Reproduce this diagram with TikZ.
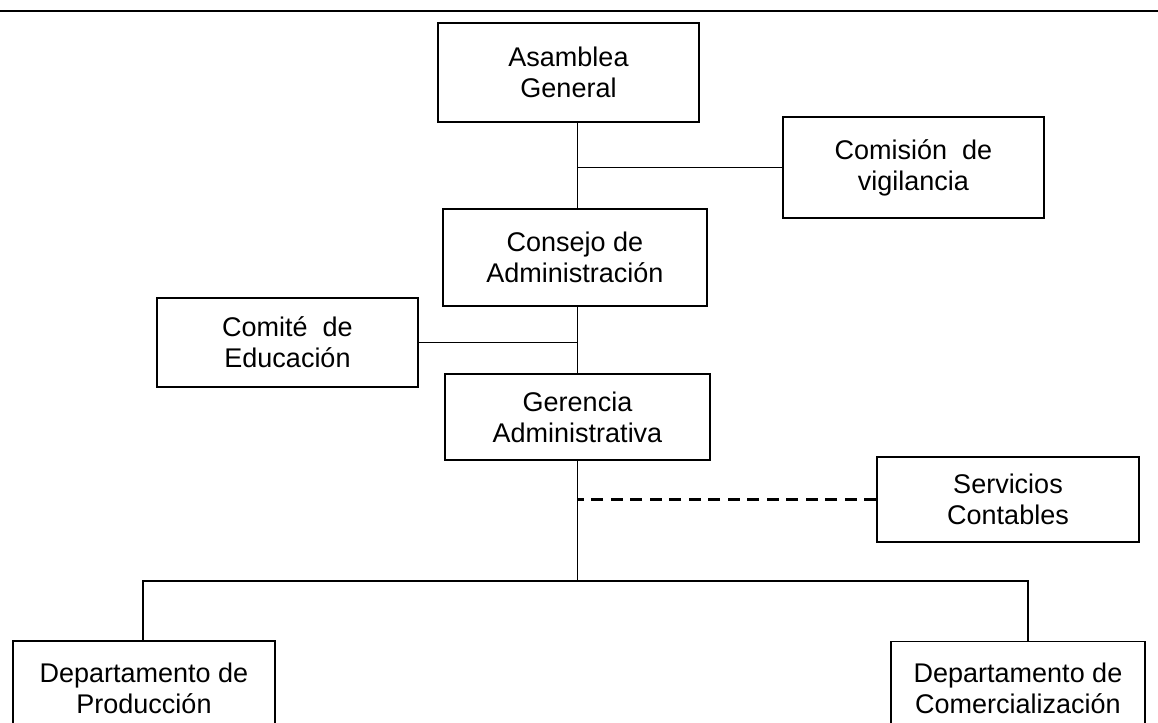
\documentclass[tikz,border=0pt]{standalone}
\usepackage{fontspec}
\setmainfont{Liberation Sans}
\usepackage{tikz}
\tikzset{ org_box/.style = {rectangle, draw, align=center, inner sep=0pt, font=\fontsize{13.5}{15.5}\selectfont} }
\tikzset{ staff_line/.style = {line width=1.2pt, dash pattern=on 6pt off 3.75pt} }

\begin{document}
\begin{tikzpicture}[x=0.5pt,y=-0.5pt,line width=0.8pt]
        \useasboundingbox (0,0) rectangle (1158,723);
        \clip (0,0) rectangle (1158,723);
        \draw (0,11) -- (1158,11);
                \node [style=org_box, minimum width=130.5pt, minimum height=49.5pt] (AG) at (568.5, 72.5) {Asamblea\\General};
                \node [style=org_box, minimum width=130.5pt, minimum height=50.5pt] (CV) at (913.5, 167.5) {Comisión\ \ de\\vigilancia};
                \node [style=org_box, minimum width=132pt, minimum height=48.5pt] (CA) at (575, 257.5) {Consejo de\\Administración};
                \node [style=org_box, minimum width=130.5pt, minimum height=44.5pt] (CE) at (287.5, 342.5) {Comité\ \ de\\Educación};
                \node [style=org_box, minimum width=132.5pt, minimum height=43pt] (GA) at (577.5, 417) {Gerencia\\Administrativa};
                \node [style=org_box, minimum width=131pt, minimum height=42.5pt] (SC) at (1008, 499.5) {Servicios\\Contables};
                \node [style=org_box, minimum width=131pt, minimum height=47pt] (DP) at (144, 688) {Departamento de\\Producción};
                \node [style=org_box, minimum width=127pt, minimum height=47pt] (DC) at (1018, 688.5) {Departamento de\\Comercialización};
                \coordinate (bus) at (577.5, 581);
                \coordinate (busL) at (143, 581);
                \coordinate (busR) at (1028, 581);
                \draw (AG.south -| GA) to (CA.north -| GA);
                \draw (CV.west) to (CV.west -| GA);
                \draw (CA.south -| GA) to (GA.north);
                \draw (CE.east) to (CE.east -| GA);
                \draw (GA.south) to (bus);
                \draw[style=staff_line] (SC.west) to (SC.west -| GA);
                \draw (DP.north -| busL) -- (busL) -- (busR) -- (DC.north -| busR);
        \end{tikzpicture}
\end{document}
